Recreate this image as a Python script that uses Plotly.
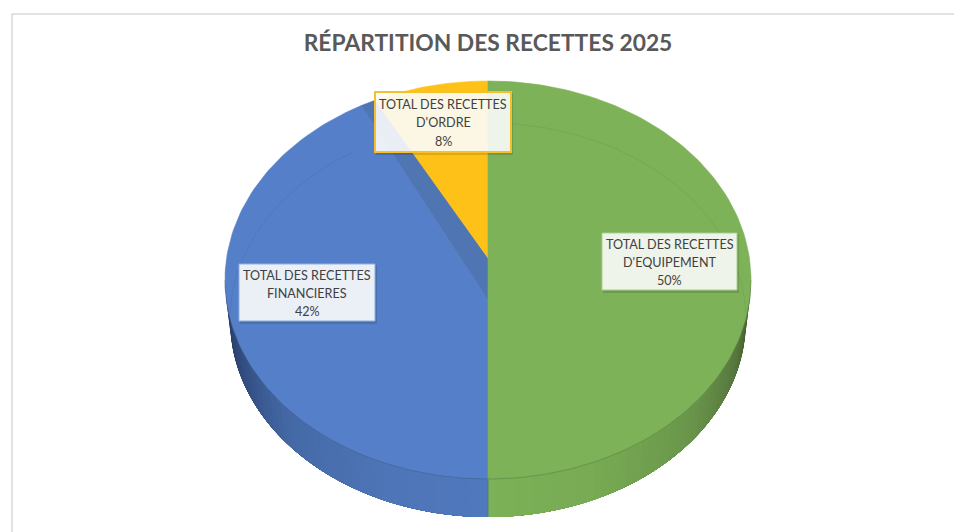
import math
import plotly.graph_objects as go

# ---- data ----
title = "RÉPARTITION DES RECETTES 2025"
categories = ["TOTAL DES RECETTES D'EQUIPEMENT", "TOTAL DES RECETTES FINANCIERES", "TOTAL DES RECETTES D'ORDRE"]
label_line1 = ["TOTAL DES RECETTES", "TOTAL DES RECETTES", "TOTAL DES RECETTES"]
label_line2 = ["D'EQUIPEMENT", "FINANCIERES", "D'ORDRE"]
values = [50, 42, 8]

# ---- styling / geometry (pixel-space axes) ----
W, H = 954, 532
CX, CY, RX, RY = 488, 280, 263, 199
BCY, BRX, BRY = 320, 258, 197
BLUE_APEX, YELLOW_APEX = 300, 258
YELLOW_WARP = 7.0
FONT = "Lato"
GREEN, BLUE, YELLOW, BAND = "#7DB258", "#557FC8", "#FEC117", "#4F76B2"
TEXT = "#404040"
BOXES = [(602, 233, 737, 290, "#A9CF8E", 1), (239, 264, 375, 321, "#8FB0E0", 1), (375, 92, 511, 152, "#F5C02C", 2)]
LINE_Y = [(244, 262, 280), (275, 293, 311), (104.5, 122.5, 141)]
BOX_FILL = "rgba(255,255,255,0.89)"


def pt(theta):
    a = math.radians(theta)
    return CX + RX * math.sin(a), CY - RY * math.cos(a)


def arc(a, b, n=120):
    return [pt(a + (b - a) * i / n) for i in range(n + 1)]


def mix(c1, c2, f):
    return "#%02X%02X%02X" % tuple(round(p + (q - p) * f) for p, q in zip(c1, c2))


def shade(stops, f):
    for (f0, c0), (f1, c1) in zip(stops, stops[1:]):
        if f <= f1:
            return mix(c0, c1, (f - f0) / (f1 - f0))
    return mix(stops[-1][1], stops[-1][1], 0)


def poly(points, color, width=0.6):
    xs, ys = zip(*points)
    return go.Scatter(x=list(xs) + [xs[0]], y=list(ys) + [ys[0]], mode="lines", fill="toself",
                      fillcolor=color, line=dict(color=color, width=width), hoverinfo="skip", showlegend=False)


fig = go.Figure()

# side wall with horizontal shading: each strip reaches to the centre line and
# is painted over by the next one, so no seams can show
green_stops = [(0, (0x3A, 0x52, 0x29)), (0.20, (0x55, 0x76, 0x3D)), (0.45, (0x6A, 0x97, 0x4B)), (0.75, (0x78, 0xAB, 0x54)), (1, (0x7C, 0xB1, 0x57))]
blue_stops = [(0, (0x22, 0x36, 0x5C)), (0.20, (0x30, 0x4A, 0x7C)), (0.45, (0x44, 0x69, 0xA6)), (0.75, (0x4E, 0x75, 0xB7)), (1, (0x50, 0x78, 0xBD))]
N = 45
for side, stops in ((1, green_stops), (-1, blue_stops)):
    for i in range(N):
        ts = [90 * i / N + (90 - 90 * i / N) * k / 30 for k in range(31)]
        pts = []
        for t in ts:
            a = math.radians(t)
            pts.append((CX + side * RX * math.cos(a), CY + RY * math.sin(a)))
        for t in reversed(ts):
            a = math.radians(t)
            pts.append((CX + side * BRX * math.cos(a), BCY + BRY * math.sin(a)))
        fig.add_trace(poly(pts, shade(stops, (i + 0.5) / N), width=0))

# faces, from cumulative values clockwise from 12 o'clock
total = sum(values)
start_blue = 360 * values[0] / total
end_blue = start_blue + 360 * values[1] / total
end_green = start_blue
yellow_start = end_blue - YELLOW_WARP * math.sin(math.radians(end_blue))

fig.add_trace(poly([(CX, BLUE_APEX)] + arc(start_blue, end_blue), BLUE))
fig.add_trace(poly([(CX, BLUE_APEX)] + arc(end_blue, yellow_start, 10) + [(CX, YELLOW_APEX)], BAND))
fig.add_trace(poly([(CX, YELLOW_APEX)] + arc(yellow_start, 360), YELLOW))
fig.add_trace(poly(arc(0, end_green), GREEN))


# faint ellipse arcs
def bpts(a, b, n=80):
    r = [a + (b - a) * i / n for i in range(n + 1)]
    return [CX + BRX * math.sin(math.radians(t)) for t in r], [BCY - BRY * math.cos(math.radians(t)) for t in r]


for a, b in ((0, 88), (272, 329)):
    x, y = bpts(a, b)
    fig.add_trace(go.Scatter(x=x, y=y, mode="lines", line=dict(color="rgba(0,0,0,0.06)", width=1), hoverinfo="skip", showlegend=False))
low = arc(90, 270)
fig.add_trace(go.Scatter(x=[p[0] for p in low], y=[p[1] for p in low], mode="lines",
                         line=dict(color="rgba(30,50,30,0.28)", width=0.8), hoverinfo="skip", showlegend=False))
fig.add_trace(go.Scatter(x=[CX, CX], y=[CY + RY, BCY + BRY], mode="lines",
                         line=dict(color="#4A7A80", width=0.8), hoverinfo="skip", showlegend=False))

shapes = [
    dict(type="line", x0=11.5, x1=W, y0=14, y1=14, line=dict(color="#D9D9D9", width=1.5), layer="below"),
    dict(type="line", x0=12, x1=12, y0=14, y1=H, line=dict(color="#D9D9D9", width=1.5), layer="below"),
]
annotations = []
for (x0, y0, x1, y1, edge, lw), ys, l1, l2, v in zip(BOXES, LINE_Y, label_line1, label_line2, values):
    shapes.append(dict(type="rect", x0=x0 + 1, x1=x1 + 2, y0=y0 + 1, y1=y1 + 3, fillcolor="rgba(0,0,0,0.13)", line=dict(width=0)))
    shapes.append(dict(type="rect", x0=x0, x1=x1, y0=y0, y1=y1, fillcolor=BOX_FILL, line=dict(color=edge, width=lw)))
    for y, txt in zip(ys, (l1, l2, f"{v}%")):
        annotations.append(dict(x=(x0 + x1) / 2, y=y, text=txt, showarrow=False, xanchor="center", yanchor="middle",
                                font=dict(family=FONT, size=12.6, color=TEXT)))

fig.update_layout(
    width=W, height=H, margin=dict(l=0, r=0, t=0, b=0), paper_bgcolor="white", plot_bgcolor="white", showlegend=False,
    title=dict(text=f"<b>{title}</b>", x=CX / W, xanchor="center", y=1 - 43 / H, yanchor="middle",
               font=dict(family=FONT, size=22.8, color="#595959")),
    xaxis=dict(range=[0, W], visible=False, fixedrange=True),
    yaxis=dict(range=[H, 0], visible=False, fixedrange=True),
    shapes=shapes, annotations=annotations,
)
fig.write_html("out.html", config=dict(displayModeBar=False), post_script="document.body.style.margin='0';")
